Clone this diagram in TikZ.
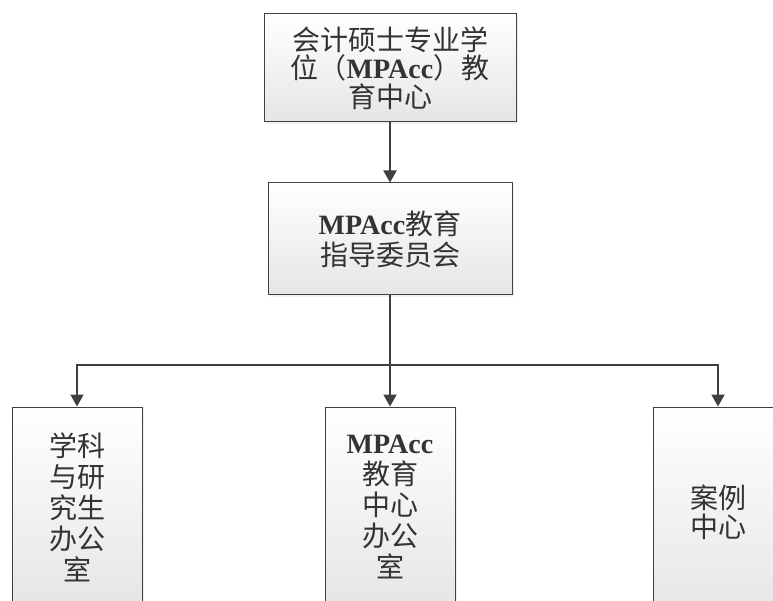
\documentclass[tikz,border=0pt]{standalone}
\usepackage{fontspec}
\setmainfont{Liberation Serif}
\newfontfamily\cjk{Noto Sans CJK SC}
\usetikzlibrary{arrows.meta,shadows}
\newcommand\mpacc{{\rmfamily\bfseries MPAcc}}
\definecolor{linegray}{HTML}{404040}
\definecolor{textgray}{HTML}{333333}
\tikzset{
  orgbox/.style={draw=linegray, line width=1pt, top color=white, bottom color=black!10,
    text=textgray, align=center, inner sep=0pt,
    drop shadow={shadow xshift=2pt, shadow yshift=-2pt, fill=black!15, opacity=0.4}},
  conn/.style={draw=linegray, line width=2pt},
  arr/.style={conn, -{Triangle[width=13pt,length=12pt]}},
}
\begin{document}
\begin{tikzpicture}[x=1pt,y=-1pt]
\useasboundingbox (0,0) rectangle (773,601);
\clip (0,0) rectangle (773,601);
\node[orgbox, minimum width=252pt, minimum height=108pt, font=\cjk\fontsize{28}{28.5}\selectfont]
  (top) at (390,68) {会计硕士专业学\\位（\mpacc）教\\育中心};
\node[orgbox, minimum width=244pt, minimum height=112pt, font=\cjk\fontsize{28}{31}\selectfont]
  (mid) at (390,239) {\mpacc 教育\\指导委员会};
\node[orgbox, minimum width=130pt, minimum height=200pt, font=\cjk\fontsize{28}{31}\selectfont]
  (left) at (77,507) {学科\\与研\\究生\\办公\\室};
\node[orgbox, minimum width=130pt, minimum height=200pt, font=\cjk\fontsize{28}{31}\selectfont]
  (center) at (390,507) {\mpacc\\教育\\中心\\办公\\室};
\node[orgbox, minimum width=130pt, minimum height=210pt, font=\cjk\fontsize{28}{29}\selectfont]
  (right) at (718,512) {案例\\中心};
\coordinate (hub) at (390,365);
\draw[arr] (top) -- (mid);
\draw[conn] (mid) -- (hub);
\draw[arr] (hub) -| (left);
\draw[arr] (hub) -| (right);
\draw[arr] (hub) -- (center);
\end{tikzpicture}
\end{document}
